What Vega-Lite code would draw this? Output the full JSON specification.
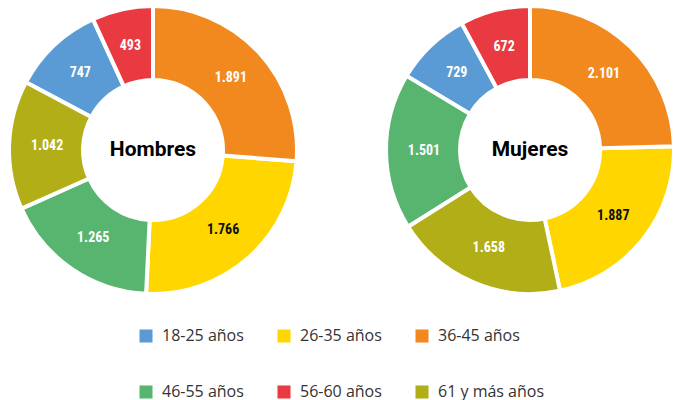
{
  "$schema": "https://vega.github.io/schema/vega-lite/v6.json",
  "padding": {"left": 5, "top": 2, "right": 0, "bottom": 0},
  "config": {
    "view": {"stroke": null},
    "locale": {"number": {"decimal": ",", "thousands": ".", "grouping": [3], "currency": ["", " €"]}},
    "legend": {
      "orient": "bottom",
      "direction": "horizontal",
      "columns": 3,
      "offset": 30,
      "rowPadding": 40,
      "columnPadding": 32,
      "symbolType": "square",
      "symbolSize": 170,
      "symbolStrokeWidth": 0,
      "labelFont": "Open Sans",
      "labelFontSize": 16,
      "labelColor": "#333333",
      "labelOffset": 8,
      "title": null,
      "layout": {"bottom": {"anchor": "middle"}}
    }
  },
  "datasets": {
    "tabla": [
      {"sexo": "Hombres", "edad": "18-25 años", "valor": 747},
      {"sexo": "Hombres", "edad": "26-35 años", "valor": 1766},
      {"sexo": "Hombres", "edad": "36-45 años", "valor": 1891},
      {"sexo": "Hombres", "edad": "46-55 años", "valor": 1265},
      {"sexo": "Hombres", "edad": "56-60 años", "valor": 493},
      {"sexo": "Hombres", "edad": "61 y más años", "valor": 1042},
      {"sexo": "Mujeres", "edad": "18-25 años", "valor": 729},
      {"sexo": "Mujeres", "edad": "26-35 años", "valor": 1887},
      {"sexo": "Mujeres", "edad": "36-45 años", "valor": 2101},
      {"sexo": "Mujeres", "edad": "46-55 años", "valor": 1501},
      {"sexo": "Mujeres", "edad": "56-60 años", "valor": 672},
      {"sexo": "Mujeres", "edad": "61 y más años", "valor": 1658}
    ]
  },
  "spacing": 81,
  "hconcat": [
    {
      "width": 296,
      "height": 296,
      "data": {"name": "tabla"},
      "transform": [{"filter": "datum.sexo === 'Hombres'"}],
      "layer": [
        {
          "mark": {"type": "arc", "radius": 144, "innerRadius": 70, "stroke": "white", "strokeWidth": 4, "strokeJoin": "round"},
          "encoding": {
            "theta": {"field": "valor", "type": "quantitative", "stack": true},
            "order": {"field": "valor", "type": "quantitative", "sort": "descending"},
            "color": {
              "field": "edad",
              "type": "nominal",
              "scale": {
                "domain": ["18-25 años", "26-35 años", "36-45 años", "46-55 años", "56-60 años", "61 y más años"],
                "range": ["#5B9BD5", "#FFD600", "#F1891E", "#58B56F", "#E83A40", "#B1AE18"]
              }
            }
          }
        },
        {
          "mark": {"type": "text", "radius": 106, "font": "Roboto Condensed, Roboto", "fontWeight": "bold", "fontSize": 14},
          "encoding": {
            "theta": {"field": "valor", "type": "quantitative", "stack": true},
            "order": {"field": "valor", "type": "quantitative", "sort": "descending"},
            "text": {"field": "valor", "type": "quantitative", "format": ",d"},
            "color": {"condition": {"test": "datum.edad === '26-35 años'", "value": "#111111"}, "value": "white"}
          }
        },
        {
          "transform": [{"aggregate": [{"op": "count", "as": "n"}], "groupby": ["sexo"]}],
          "mark": {"type": "text", "font": "Roboto", "fontWeight": "bold", "fontSize": 21, "color": "black"},
          "encoding": {"text": {"field": "sexo", "type": "nominal"}}
        }
      ]
    },
    {
      "width": 296,
      "height": 296,
      "data": {"name": "tabla"},
      "transform": [{"filter": "datum.sexo === 'Mujeres'"}],
      "layer": [
        {
          "mark": {"type": "arc", "radius": 144, "innerRadius": 70, "stroke": "white", "strokeWidth": 4, "strokeJoin": "round"},
          "encoding": {
            "theta": {"field": "valor", "type": "quantitative", "stack": true},
            "order": {"field": "valor", "type": "quantitative", "sort": "descending"},
            "color": {
              "field": "edad",
              "type": "nominal",
              "scale": {
                "domain": ["18-25 años", "26-35 años", "36-45 años", "46-55 años", "56-60 años", "61 y más años"],
                "range": ["#5B9BD5", "#FFD600", "#F1891E", "#58B56F", "#E83A40", "#B1AE18"]
              }
            }
          }
        },
        {
          "mark": {"type": "text", "radius": 106, "font": "Roboto Condensed, Roboto", "fontWeight": "bold", "fontSize": 14},
          "encoding": {
            "theta": {"field": "valor", "type": "quantitative", "stack": true},
            "order": {"field": "valor", "type": "quantitative", "sort": "descending"},
            "text": {"field": "valor", "type": "quantitative", "format": ",d"},
            "color": {"condition": {"test": "datum.edad === '26-35 años'", "value": "#111111"}, "value": "white"}
          }
        },
        {
          "transform": [{"aggregate": [{"op": "count", "as": "n"}], "groupby": ["sexo"]}],
          "mark": {"type": "text", "font": "Roboto", "fontWeight": "bold", "fontSize": 21, "color": "black"},
          "encoding": {"text": {"field": "sexo", "type": "nominal"}}
        }
      ]
    }
  ]
}
